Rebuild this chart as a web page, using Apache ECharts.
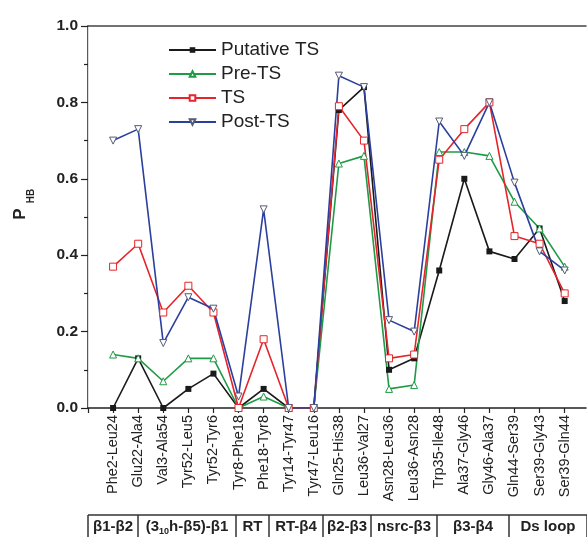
<!DOCTYPE html>
<html>
<head>
<meta charset="utf-8">
<script src="https://cdn.jsdelivr.net/npm/echarts@6/dist/echarts.min.js"></script>
<style>
  html, body { margin: 0; padding: 0; background: #fff; }
  #chart { width: 587px; height: 537px; }
</style>
</head>
<body>
<div id="chart"></div>
<script>
// Hydrogen-bond pairs along the x axis
const pairs = ['Phe2-Leu24', 'Glu22-Ala4', 'Val3-Ala54', 'Tyr52-Leu5', 'Tyr52-Tyr6',
  'Tyr8-Phe18', 'Phe18-Tyr8', 'Tyr14-Tyr47', 'Tyr47-Leu16', 'Gln25-His38',
  'Leu36-Val27', 'Asn28-Leu36', 'Leu36-Asn28', 'Trp35-Ile48', 'Ala37-Gly46',
  'Gly46-Ala37', 'Gln44-Ser39', 'Ser39-Gly43', 'Ser39-Gln44'];

// P_HB per ensemble
const putativeTS = [0.00, 0.13, 0.00, 0.05, 0.09, 0.00, 0.05, 0.00, 0.00, 0.78, 0.84, 0.10, 0.13, 0.36, 0.60, 0.41, 0.39, 0.47, 0.28];
const preTS      = [0.14, 0.13, 0.07, 0.13, 0.13, 0.00, 0.03, 0.00, 0.00, 0.64, 0.66, 0.05, 0.06, 0.67, 0.67, 0.66, 0.54, 0.47, 0.37];
const tsVals     = [0.37, 0.43, 0.25, 0.32, 0.25, 0.00, 0.18, 0.00, 0.00, 0.79, 0.70, 0.13, 0.14, 0.65, 0.73, 0.80, 0.45, 0.43, 0.30];
const postTS     = [0.70, 0.73, 0.17, 0.29, 0.26, 0.03, 0.52, 0.00, 0.00, 0.87, 0.84, 0.23, 0.20, 0.75, 0.66, 0.80, 0.59, 0.41, 0.36];

// Y axis tick values
const yTicks = [0.0, 0.2, 0.4, 0.6, 0.8, 1.0];

// Structural regions listed under the axis
const regionNames = ['β1-β2', '(3{s|10}h-β5)-β1', 'RT', 'RT-β4', 'β2-β3', 'nsrc-β3', 'β3-β4', 'Ds loop'];

const FONT = 'Arial, "Liberation Sans", Helvetica, sans-serif';

// pixel edges of the region table cells
const tableEdges = [88, 138, 236, 269, 323, 371, 437, 509, 587];
const tableTop = 515, tableBottom = 545;

function toPoints(vals) {
  return vals.map((v, i) => [i + 1, v]);
}

const graphics = [];
// table frame
graphics.push({
  type: 'line', shape: { x1: tableEdges[0], y1: tableTop, x2: tableEdges[tableEdges.length - 1], y2: tableTop },
  style: { stroke: '#333', lineWidth: 1.5 }, silent: true
});
tableEdges.forEach(x => {
  graphics.push({
    type: 'line', shape: { x1: x, y1: tableTop, x2: x, y2: tableBottom },
    style: { stroke: '#333', lineWidth: 1.5 }, silent: true
  });
});
regionNames.forEach((name, i) => {
  graphics.push({
    type: 'text',
    x: (tableEdges[i] + tableEdges[i + 1]) / 2,
    y: 527,
    silent: true,
    style: {
      text: name,
      align: 'center',
      verticalAlign: 'middle',
      font: 'bold 15px ' + FONT,
      fill: '#222',
      rich: {
        s: { fontSize: 9, fontWeight: 'bold', fontFamily: FONT, fill: '#222', padding: [9, 0, 0, 0] }
      }
    }
  });
});
// y axis title P with subscript HB
graphics.push({
  type: 'text', x: 20, y: 214, rotation: Math.PI / 2, silent: true,
  style: { text: 'P', align: 'center', verticalAlign: 'middle', font: 'bold 17px ' + FONT, fill: '#222' }
});
graphics.push({
  type: 'text', x: 31, y: 196, rotation: Math.PI / 2, silent: true,
  style: { text: 'HB', align: 'center', verticalAlign: 'middle', font: 'bold 10px ' + FONT, fill: '#222' }
});

const chart = echarts.init(document.getElementById('chart'), null, { renderer: 'canvas' });

const seriesCommon = {
  type: 'line',
  lineStyle: { width: 1.6 },
  z: 3
};

chart.setOption({
  animation: false,
  backgroundColor: '#fff',
  textStyle: { fontFamily: FONT },
  grid: { left: 88, top: 26, right: 1, bottom: 129, containLabel: false },
  legend: {
    orient: 'vertical',
    left: 163,
    top: 35,
    itemWidth: 47,
    itemHeight: 7,
    itemGap: 4,
    textStyle: { fontSize: 19, lineHeight: 20, color: '#222', fontFamily: FONT },
    data: ['Putative TS', 'Pre-TS', 'TS', 'Post-TS']
  },
  xAxis: [{
    type: 'value',
    min: 0,
    max: 19.85,
    interval: 1,
    position: 'bottom',
    splitLine: { show: false },
    axisLine: { lineStyle: { color: '#222', width: 1.5 } },
    axisTick: { inside: false, length: 5, lineStyle: { color: '#222', width: 1.2 } },
    axisLabel: {
      rotate: 90,
      margin: 7,
      fontSize: 14.5,
      color: '#222',
      fontFamily: FONT,
      showMaxLabel: false,
      formatter: v => (Number.isInteger(v) && v >= 1 && v <= pairs.length) ? pairs[v - 1] : ''
    }
  }, {
    type: 'value',
    min: 0,
    max: 19.85,
    position: 'top',
    splitLine: { show: false },
    axisLine: { onZero: false, lineStyle: { color: '#444', width: 1.5 } },
    axisTick: { show: false },
    axisLabel: { show: false }
  }],
  yAxis: [{
    type: 'value',
    min: 0,
    max: 1,
    interval: 0.2,
    splitLine: { show: false },
    axisLine: { show: true, lineStyle: { color: '#222', width: 1.5 } },
    axisTick: { show: true, length: 7, lineStyle: { color: '#222', width: 1.2 } },
    minorTick: { show: true, splitNumber: 2, length: 4, lineStyle: { color: '#222', width: 1.2 } },
    axisLabel: {
      margin: 10,
      fontSize: 15.5,
      fontWeight: 'bold',
      color: '#222',
      fontFamily: FONT,
      formatter: v => {
        const t = yTicks.find(y => Math.abs(y - v) < 1e-9);
        return t === undefined ? '' : t.toFixed(1);
      }
    }
  }, {
    type: 'value',
    min: 0,
    max: 1,
    position: 'right',
    splitLine: { show: false },
    axisLine: { show: true, lineStyle: { color: '#ddd', width: 1 } },
    axisTick: { show: false },
    axisLabel: { show: false }
  }],
  series: [
    Object.assign({}, seriesCommon, {
      name: 'Putative TS',
      data: toPoints(putativeTS),
      color: '#1a1a1a',
      symbol: 'rect',
      symbolSize: 6,
      itemStyle: { color: '#1a1a1a' },
      lineStyle: { width: 1.6, color: '#1a1a1a' }
    }),
    Object.assign({}, seriesCommon, {
      name: 'Pre-TS',
      data: toPoints(preTS),
      color: '#1f9a45',
      symbol: 'triangle',
      symbolSize: 7,
      itemStyle: { color: '#fff', borderColor: '#1f9a45', borderWidth: 1 },
      lineStyle: { width: 1.6, color: '#1f9a45' }
    }),
    Object.assign({}, seriesCommon, {
      name: 'TS',
      data: toPoints(tsVals),
      color: '#e5242b',
      symbol: 'rect',
      symbolSize: 7,
      itemStyle: { color: '#fff', borderColor: '#e5242b', borderWidth: 1 },
      lineStyle: { width: 1.6, color: '#e5242b' }
    }),
    Object.assign({}, seriesCommon, {
      name: 'Post-TS',
      data: toPoints(postTS),
      color: '#2b3f9e',
      symbol: 'triangle',
      symbolRotate: 180,
      symbolSize: 7,
      itemStyle: { color: '#fff', borderColor: '#555a75', borderWidth: 1 },
      lineStyle: { width: 1.6, color: '#2b3f9e' }
    })
  ],
  graphic: graphics
});
</script>
</body>
</html>
